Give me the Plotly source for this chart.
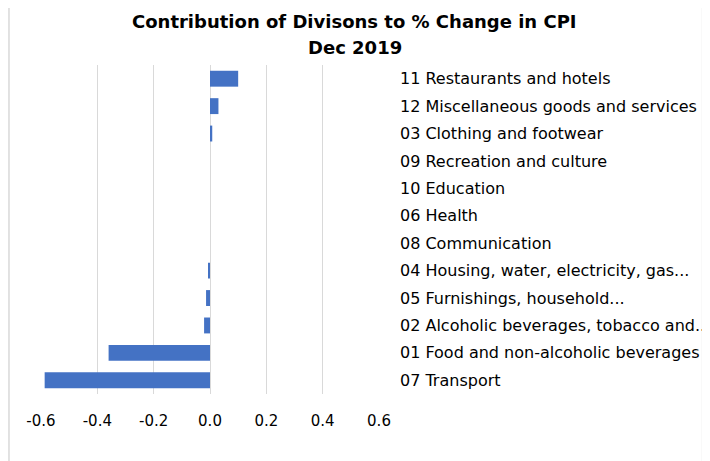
import plotly.graph_objects as go

# 위에서 아래 순서 (top to bottom)
divisions = [
    "11 Restaurants and hotels",
    "12 Miscellaneous goods and services",
    "03 Clothing and footwear",
    "09 Recreation and culture",
    "10 Education",
    "06 Health",
    "08 Communication",
    "04 Housing, water, electricity, gas...",
    "05 Furnishings, household...",
    "02 Alcoholic beverages, tobacco and..",
    "01 Food and non-alcoholic beverages",
    "07 Transport",
]
contribution = [0.10, 0.03, 0.008, 0.0, 0.0, 0.0, 0.0, -0.007, -0.014, -0.021, -0.36, -0.587]

x_ticks = [-0.6, -0.4, -0.2, 0.0, 0.2, 0.4, 0.6]
x_ticktext = ["-0.6", "-0.4", "-0.2", "0.0", "0.2", "0.4", "0.6"]

title_lines = ["Contribution of Divisons to % Change in CPI", "Dec 2019"]

BAR_COLOR = "#4472C4"
GRID_COLOR = "#D9D9D9"
FONT = "DejaVu Sans"

# 페이지 body 여백(8px) 보정
OFF = 8
W, H = 710, 461
L, T = 41 - OFF, 65 - OFF
pw, ph = 337.7, 329.4
R, B = W - L - pw, H - T - ph

fig = go.Figure(go.Bar(
    x=contribution, y=divisions,
    orientation="h",
    marker=dict(color=BAR_COLOR, line=dict(width=0)),
    width=0.58,
    hoverinfo="x+y",
))

fig.update_layout(
    width=W, height=H,
    margin=dict(l=L, r=R, t=T, b=B, pad=0, autoexpand=False),
    paper_bgcolor="white", plot_bgcolor="white",
    showlegend=False,
    font=dict(family=FONT, color="#000000"),
)

# 제목 두 줄
title_cx = (354.5 - OFF - L) / pw
for txt, py in zip(title_lines, [21, 47]):
    fig.add_annotation(
        text=txt, xref="paper", yref="paper",
        x=title_cx, y=1 + (T - (py - OFF)) / ph,
        xanchor="center", yanchor="middle", showarrow=False,
        font=dict(family=FONT, size=18, color="#000000", weight="bold"),
    )

fig.update_xaxes(
    range=[-0.6, 0.6],
    tickvals=x_ticks, ticktext=x_ticktext,
    showgrid=True, gridcolor=GRID_COLOR, gridwidth=1,
    zeroline=False, showline=False,
    ticks="", ticklabelstandoff=16,
    tickfont=dict(size=15),
)
fig.update_yaxes(
    side="right",
    autorange="reversed",
    showgrid=False, zeroline=False, showline=False,
    ticks="", ticklabelstandoff=20,
    tickfont=dict(size=16),
)

# 차트 테두리 (좌/우)
for px in [9, 702]:
    fig.add_shape(
        type="line", xref="paper", yref="paper",
        x0=(px - OFF - L) / pw, x1=(px - OFF - L) / pw,
        y0=-(B + 10) / ph, y1=1 + (T + 10) / ph,
        line=dict(color=GRID_COLOR, width=1.5),
        layer="above",
    )

fig.write_html("out.html")
